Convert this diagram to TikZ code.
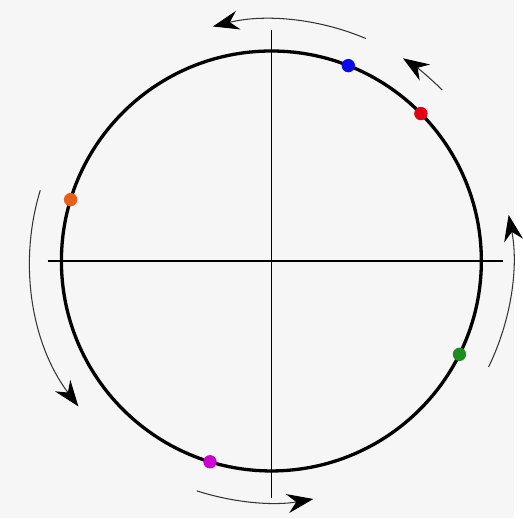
\documentclass[tikz,border=0pt]{standalone}
\usetikzlibrary{arrows.meta}
\definecolor{bgcol}{RGB}{246,246,246}
\definecolor{dotblue}{RGB}{10,10,235}
\definecolor{dotred}{RGB}{225,0,20}
\definecolor{dotorange}{RGB}{232,95,25}
\definecolor{dotgreen}{RGB}{30,140,30}
\definecolor{dotmagenta}{RGB}{205,0,210}

\begin{document}
\begin{tikzpicture}[
  dot/.style={circle, inner sep=0pt, minimum size=0.27cm},
  flow/.style={line width=0.6pt, black!80, -{Stealth[length=15pt,width=11pt,inset=5pt,black]}}
]
  % background, fixes the margins
  \fill[bgcol] (-5.48,-5.19) rectangle (4.90,5.27);
  % axes
  \draw[line width=0.7pt] (-4.52,0) -- (4.68,0);
  \draw[line width=0.7pt] (0,4.67) -- (0,-4.79);
  % unit circle
  \draw[line width=1.9pt] (0,0) circle (4.24cm);
  % points on the circle
  \foreach \ang/\col/\name in {68.5/dotblue/pb, 44.6/dotred/pr, 163/dotorange/po,
                               -26.4/dotgreen/pg, -107/dotmagenta/pm}
    \node[dot, fill=\col] (\name) at (\ang:4.24) {};
  % rotation arrows, all counter-clockwise
  \foreach \a/\b in {67/104, 45/57, 163/217, -26/11, -108/-80}
    \draw[flow] (\a:4.88) arc[start angle=\a, end angle=\b, radius=4.88];
\end{tikzpicture}
\end{document}
